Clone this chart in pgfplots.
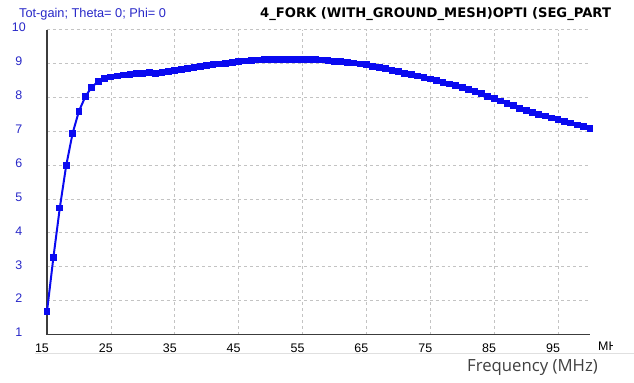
\documentclass[border=0pt]{standalone}
\usepackage{fontspec}
\setmainfont{Liberation Sans}
\newfontfamily\labelfont{Open Sans}
\newfontfamily\titlefont{DejaVu Sans}
\usepackage{pgfplots}
\pgfplotsset{compat=1.18}
\definecolor{curveblue}{RGB}{10,10,240}
\definecolor{labblue}{RGB}{40,40,200}
\definecolor{gridgray}{RGB}{195,195,195}
\definecolor{axisgray}{RGB}{60,60,60}
\begin{document}
\begin{tikzpicture}
\path[use as bounding box] (-47bp,-48.5bp) rectangle (587bp,334.5bp);
\begin{axis}[
  scale only axis,
  width=543bp, height=305bp,
  xmin=15, xmax=100, ymin=1, ymax=10,
  axis x line=bottom, axis y line=left,
  axis line style={axisgray, line width=1.3pt, -},
  xtick={15,25,35,45,55,65,75,85,95},
  ytick={1,2,3,4,5,6,7,8,9,10},
  grid=major,
  major grid style={gridgray, dash pattern=on 3pt off 3pt, line width=0.7pt},
  tick style={draw=none},
  /pgf/number format/assume math mode=true,
  xticklabel style={font=\fontsize{12.5}{13}\selectfont, anchor=center, yshift=-12bp, xshift=-5bp, text=black},
  yticklabel style={font=\fontsize{12.5}{13}\selectfont, anchor=center, xshift=-26bp, yshift=2bp, text=labblue},
  clip=false,
]
\addplot[curveblue, line width=2pt, mark=square*, mark size=2.4bp, mark options={solid}] coordinates {
(15,1.68)(16,3.27)(17,4.73)(18,5.98)(19,6.93)(20,7.59)(21,8.02)(22,8.30)(23,8.46)(24,8.55)
(25,8.60)(26,8.63)(27,8.66)(28,8.68)(29,8.70)(30,8.71)(31,8.72)(32,8.70)(33,8.72)(34,8.76)
(35,8.80)(36,8.82)(37,8.84)(38,8.87)(39,8.90)(40,8.93)(41,8.96)(42,8.98)(43,9.00)(44,9.03)
(45,9.05)(46,9.07)(47,9.09)(48,9.10)(49,9.11)(50,9.11)(51,9.12)(52,9.12)(53,9.12)(54,9.12)
(55,9.12)(56,9.11)(57,9.11)(58,9.10)(59,9.08)(60,9.06)(61,9.05)(62,9.03)(63,9.01)(64,8.98)
(65,8.96)(66,8.92)(67,8.88)(68,8.84)(69,8.79)(70,8.75)(71,8.71)(72,8.67)(73,8.63)(74,8.58)
(75,8.54)(76,8.49)(77,8.44)(78,8.39)(79,8.34)(80,8.29)(81,8.23)(82,8.16)(83,8.10)(84,8.03)
(85,7.96)(86,7.89)(87,7.82)(88,7.75)(89,7.68)(90,7.61)(91,7.55)(92,7.50)(93,7.45)(94,7.39)
(95,7.34)(96,7.29)(97,7.24)(98,7.18)(99,7.13)(100,7.08)
};
\end{axis}
\node[anchor=west, inner sep=0pt, text=labblue, font=\fontsize{12.8}{14}\selectfont] at (-28bp,320.5bp) {Tot-gain; Theta= 0; Phi= 0};
\node[anchor=west, inner sep=0pt, text=black, font=\titlefont\bfseries\fontsize{13.2}{15}\selectfont] at (213bp,320.5bp) {4\_FORK (WITH\_GROUND\_MESH)OPTI (SEG\_PART};
\begin{scope}
\clip (548bp,-25bp) rectangle (565bp,0bp);
\node[anchor=west, inner sep=0pt, text=black, font=\fontsize{12.5}{13}\selectfont] at (551bp,-11.5bp) {MHz};
\end{scope}
\draw[black!12, line width=0.8pt] (-12bp,-18.5bp) -- (587bp,-18.5bp);
\node[anchor=east, inner sep=0pt, text=black!75, font=\labelfont\fontsize{16.8}{18}\selectfont] at (551bp,-33.5bp) {Frequency (MHz)};
\end{tikzpicture}
\end{document}
